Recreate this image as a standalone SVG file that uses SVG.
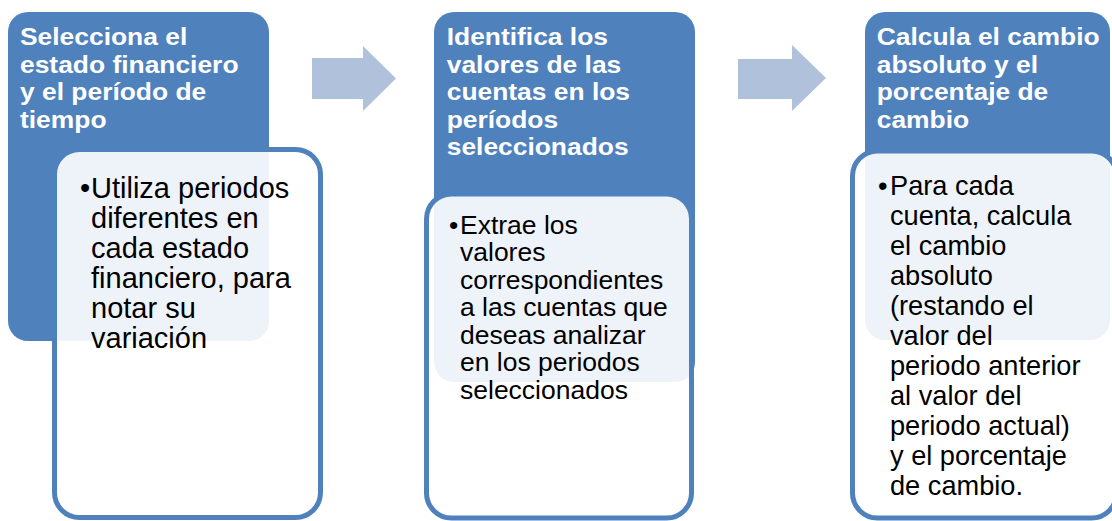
<svg xmlns="http://www.w3.org/2000/svg" width="1112" height="521" viewBox="0 0 1112 521">
<style>
.hdbox{fill:#4F81BD;}
.body{fill:#FFFFFF;fill-opacity:0.9;stroke:#4F81BD;stroke-width:5;}
.arrow{fill:#B0C1DC;}
.hd{font-family:"Liberation Sans",Arial,sans-serif;font-weight:bold;font-size:24px;fill:#FFFFFF;}
.tx{font-family:"Liberation Sans",Arial,sans-serif;fill:#000000;}
</style>
<rect width="1112" height="521" fill="#FFFFFF"/>
<g id="connectors">
<path class="arrow" d="M312,58 H363 V46 L396,78.5 L363,111 V99 H312 Z"/>
<path class="arrow" d="M738,59 H792 V45 L826,78 L792,111 V99 H738 Z"/>
</g>
<g id="node1">
<rect class="hdbox" x="8" y="12" width="261" height="329" rx="20"/>
<text class="hd" transform="translate(20,0) scale(1.1,1)"><tspan x="0" y="45.5">Selecciona el</tspan><tspan x="0" y="73">estado financiero</tspan><tspan x="0" y="100.5">y el período de</tspan><tspan x="0" y="128">tiempo</tspan></text>
<rect class="body" x="54.5" y="149.5" width="266" height="368" rx="25"/>
<text class="tx" font-size="29" x="80" y="197.5">•</text>
<text class="tx" font-size="29"><tspan x="91" y="197.5">Utiliza periodos</tspan><tspan x="91" y="227.5">diferentes en</tspan><tspan x="91" y="257.5">cada estado</tspan><tspan x="91" y="287.5">financiero, para</tspan><tspan x="91" y="317.5">notar su</tspan><tspan x="91" y="347.5">variación</tspan></text>
</g>
<g id="node2">
<rect class="hdbox" x="434" y="12" width="261" height="370" rx="20"/>
<text class="hd" transform="translate(446.7,0) scale(1.1,1)"><tspan x="0" y="45.5">Identifica los</tspan><tspan x="0" y="73">valores de las</tspan><tspan x="0" y="100.5">cuentas en los</tspan><tspan x="0" y="128">períodos</tspan><tspan x="0" y="155.5">seleccionados</tspan></text>
<rect class="body" x="426.5" y="194" width="265" height="324" rx="25"/>
<text class="tx" font-size="26.5" x="449" y="233.5">•</text>
<text class="tx" font-size="26.5"><tspan x="460" y="233.5">Extrae los</tspan><tspan x="460" y="261">valores</tspan><tspan x="460" y="288.5">correspondientes</tspan><tspan x="460" y="316">a las cuentas que</tspan><tspan x="460" y="343.5">deseas analizar</tspan><tspan x="460" y="371">en los periodos</tspan><tspan x="460" y="398.5">seleccionados</tspan></text>
</g>
<g id="node3">
<rect class="hdbox" x="865" y="12" width="245" height="328" rx="20"/>
<text class="hd" transform="translate(876.7,0) scale(1.1,1)"><tspan x="0" y="45.5">Calcula el cambio</tspan><tspan x="0" y="73">absoluto y el</tspan><tspan x="0" y="100.5">porcentaje de</tspan><tspan x="0" y="128">cambio</tspan></text>
<rect class="body" x="852.5" y="151" width="264" height="367" rx="25"/>
<text class="tx" font-size="27.2" x="878" y="194.5">•</text>
<text class="tx" font-size="27.2"><tspan x="890" y="194.5">Para cada</tspan><tspan x="890" y="224.5">cuenta, calcula</tspan><tspan x="890" y="254.5">el cambio</tspan><tspan x="890" y="284.5">absoluto</tspan><tspan x="890" y="314.5">(restando el</tspan><tspan x="890" y="344.5">valor del</tspan><tspan x="890" y="374.5">periodo anterior</tspan><tspan x="890" y="404.5">al valor del</tspan><tspan x="890" y="434.5">periodo actual)</tspan><tspan x="890" y="464.5">y el porcentaje</tspan><tspan x="890" y="494.5">de cambio.</tspan></text>
</g>
</svg>
